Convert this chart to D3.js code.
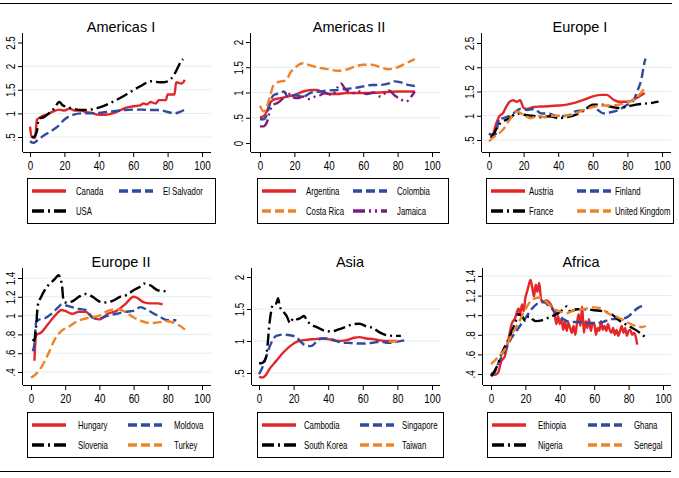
<!DOCTYPE html>
<html>
<head>
<meta charset="utf-8">
<script src="https://cdn.jsdelivr.net/npm/d3@7"></script>
<style>
body { margin: 0; background: #fff; }
text { font-family: "Liberation Sans", Arial, sans-serif; fill: #000; }
.title { font-size: 14.5px; }
</style>
</head>
<body>
<script>

// ---- data: [age, ratio] ----
var xTicks = [0, 20, 40, 60, 80, 100];

var americasINames = ["Canada", "El Salvador", "USA"];
var canada = [[0,.72],[1,.5],[3,.48],[4,.86],[6,.92],[10,.98],[13,1.03],[17,1.08],[20,1.06],[23,1.1],[26,1.06],[30,1.06],[32,1.03],[36,1.01],[40,.97],[44,.97],[48,1.0],[52,1.06],[56,1.12],[60,1.15],[64,1.17],[66,1.21],[68,1.19],[70,1.24],[73,1.21],[75,1.28],[79,1.28],[80,1.4],[84,1.4],[85,1.66],[88,1.63],[90,1.71]];
var elSalvador = [[0,.41],[2,.375],[4,.42],[8,.53],[12,.62],[16,.72],[20,.87],[25,.97],[30,1.0],[35,1.0],[40,1.01],[45,1.03],[50,1.05],[55,1.07],[60,1.08],[65,1.08],[70,1.07],[75,1.07],[80,1.03],[84,1.0],[87,1.03],[90,1.08]];
var usa = [[1,.51],[2,.5],[4,.62],[5,.88],[8,.92],[11,1.0],[14,1.1],[17,1.24],[19,1.17],[21,1.14],[25,1.1],[30,1.07],[35,1.08],[40,1.12],[45,1.19],[50,1.28],[55,1.38],[60,1.49],[65,1.59],[70,1.68],[75,1.66],[78,1.66],[82,1.73],[85,1.9],[88,2.11],[89,2.15]];

var americasIINames = ["Argentina", "Colombia", "Costa Rica", "Jamaica"];
var argentina = [[0,.51],[2,.53],[4,.63],[6,.8],[8,.86],[12,.89],[16,.92],[20,.95],[25,1.02],[30,1.05],[33,1.05],[36,1.01],[40,.97],[45,.97],[50,.99],[60,.99],[70,1.0],[80,1.02],[90,1.02]];
var colombia = [[0,.47],[2,.47],[4,.56],[6,.82],[8,.95],[12,.99],[14,1.02],[16,.92],[20,.95],[25,.92],[30,1.0],[35,1.02],[40,1.04],[45,1.05],[50,1.07],[55,1.09],[60,1.12],[65,1.15],[70,1.15],[75,1.18],[78,1.22],[82,1.2],[86,1.15],[90,1.13]];
var costaRica = [[0,.74],[2,.63],[4,.72],[6,.95],[8,1.15],[12,1.22],[15,1.24],[18,1.41],[20,1.48],[25,1.58],[28,1.55],[32,1.51],[36,1.48],[40,1.46],[45,1.43],[50,1.45],[55,1.51],[60,1.55],[65,1.55],[70,1.5],[75,1.46],[80,1.5],[85,1.58],[90,1.66]];
var jamaica = [[0,.33],[2,.33],[4,.41],[6,.66],[8,.76],[10,.79],[13,.87],[16,1.02],[18,.92],[22,.89],[25,.92],[28,.87],[32,.92],[35,.95],[38,.99],[42,.95],[45,1.1],[47,1.18],[50,1.05],[55,.99],[58,1.02],[62,.97],[66,1.0],[70,.92],[75,1.04],[78,.95],[82,.86],[85,.82],[88,.92],[90,1.02]];

var europeINames = ["Austria", "Finland", "France", "United Kingdom"];
var austria = [[0,.63],[2,.61],[4,.82],[6,.99],[8,1.05],[10,1.19],[12,1.29],[14,1.32],[16,1.29],[18,1.32],[20,1.16],[22,1.14],[26,1.18],[30,1.19],[40,1.21],[45,1.23],[50,1.27],[55,1.33],[60,1.4],[65,1.43],[68,1.43],[72,1.33],[75,1.29],[80,1.29],[85,1.36],[90,1.47]];
var finland = [[0,.63],[2,.59],[4,.63],[6,.95],[8,.95],[10,.97],[14,1.05],[18,1.14],[22,1.12],[26,1.14],[30,1.05],[35,1.04],[40,.99],[45,1.0],[50,1.09],[55,1.12],[60,1.21],[63,1.12],[66,1.05],[70,1.07],[75,1.12],[80,1.23],[83,1.29],[86,1.53],[88,1.74],[90,2.12],[90.5,2.18]];
var france = [[1,.54],[3,.64],[5,.78],[8,.88],[12,.95],[16,1.05],[20,1.02],[25,1.0],[30,.97],[35,.99],[40,.95],[45,.97],[50,1.02],[55,1.11],[60,1.23],[65,1.23],[70,1.19],[75,1.16],[80,1.19],[85,1.23],[90,1.25],[95,1.27],[98,1.29]];
var uk = [[0,.47],[2,.54],[4,.59],[8,.71],[12,.92],[16,1.09],[20,1.02],[24,.95],[28,1.0],[32,.97],[36,1.0],[40,1.0],[45,1.0],[50,1.05],[55,1.12],[60,1.18],[65,1.21],[70,1.21],[75,1.23],[80,1.27],[85,1.36],[88,1.48],[90,1.57]];

var europeIINames = ["Hungary", "Moldova", "Slovenia", "Turkey"];
var hungary = [[2,.52],[3,.79],[6,.82],[10,.91],[14,1.0],[18,1.06],[20,1.05],[24,1.02],[28,1.04],[32,1.04],[36,.98],[40,.96],[45,1.02],[50,1.05],[55,1.12],[60,1.2],[62,1.19],[66,1.14],[70,1.13],[74,1.13],[77,1.12]];
var moldova = [[1,.62],[2,.7],[3,.93],[5,.96],[8,.97],[12,1.02],[16,1.09],[18,1.12],[20,1.11],[24,1.09],[28,1.07],[32,1.06],[36,.98],[40,.97],[45,1.0],[50,1.02],[55,1.04],[60,1.05],[64,1.09],[68,1.06],[72,1.02],[76,.98],[80,.95],[85,.95]];
var slovenia = [[1,.75],[2,.73],[3,.89],[4,1.11],[6,1.2],[8,1.27],[10,1.32],[14,1.39],[16,1.43],[18,1.34],[19,1.16],[20,1.14],[24,1.15],[28,1.2],[32,1.23],[36,1.2],[40,1.15],[44,1.14],[48,1.16],[52,1.2],[56,1.22],[60,1.27],[64,1.31],[66,1.34],[70,1.32],[74,1.27],[78,1.26],[80,1.27]];
var turkey = [[0,.34],[3,.38],[6,.45],[10,.59],[14,.75],[18,.84],[22,.88],[26,.93],[30,.96],[35,.98],[40,1.0],[45,1.05],[50,1.07],[55,1.04],[60,.98],[65,.94],[70,.92],[75,.93],[80,.94],[85,.91],[88,.88],[90,.85]];

var asiaNames = ["Cambodia", "Singapore", "South Korea", "Taiwan"];
var cambodia = [[0,.44],[2,.43],[4,.47],[6,.56],[10,.69],[14,.82],[18,.92],[22,.99],[25,1.01],[28,1.02],[32,1.03],[36,1.04],[40,1.03],[45,1.0],[50,1.01],[55,1.05],[58,1.06],[62,1.04],[66,1.03],[70,1.01],[75,1.0],[80,1.0]];
var singapore = [[0,.48],[2,.59],[4,.74],[6,.9],[10,1.08],[14,1.1],[18,1.09],[22,1.05],[24,.99],[27,.93],[30,.92],[33,.98],[36,1.04],[40,1.04],[44,1.01],[48,.97],[52,.97],[56,.96],[60,.96],[65,.97],[70,.99],[75,.97],[80,.99],[84,1.01]];
var southKorea = [[0,.65],[2,.66],[4,.74],[5,.95],[6,1.26],[7,1.46],[8,1.57],[10,1.59],[11,1.67],[12,1.54],[14,1.46],[16,1.39],[18,1.28],[20,1.36],[22,1.34],[24,1.36],[26,1.39],[28,1.31],[30,1.26],[34,1.21],[38,1.16],[42,1.15],[46,1.18],[50,1.22],[54,1.26],[58,1.27],[62,1.23],[66,1.2],[70,1.13],[74,1.09],[78,1.08],[82,1.08]];
var taiwan = [[75,1.0],[77,.99],[80,1.0]];

var africaNames = ["Ethiopia", "Ghana", "Nigeria", "Senegal"];
var ethiopia = [[0,.41],[2,.39],[4,.41],[6,.53],[8,.58],[10,.74],[12,.91],[14,.97],[16,1.07],[17,1.01],[18,1.11],[19,1.04],[20,1.18],[21,1.24],[22,1.31],[23,1.36],[24,1.28],[25,1.19],[26,1.31],[27,1.24],[28,1.33],[29,1.18],[30,1.13],[32,1.15],[34,1.13],[36,1.06],[37,1.01],[38,.91],[39,.99],[40,.91],[41,.96],[42,.85],[43,.94],[44,.84],[45,.92],[46,.87],[47,.82],[48,.89],[49,.8],[50,.92],[51,1.01],[52,.89],[53,1.09],[54,.82],[55,.94],[56,.87],[57,.96],[58,.84],[59,.91],[60,.92],[61,.8],[62,.87],[63,.84],[64,.94],[65,.85],[66,.89],[67,.84],[68,.91],[69,.85],[70,.82],[71,.87],[72,.8],[73,.85],[74,.79],[75,.84],[76,.89],[77,.82],[78,.87],[79,.79],[80,.84],[81,.85],[82,.8],[83,.82],[84,.79],[85,.7]];
var ghana = [[0,.38],[2,.41],[4,.5],[8,.63],[12,.77],[16,.87],[20,.97],[24,1.07],[28,1.13],[30,1.14],[34,1.09],[38,1.02],[42,.96],[46,.93],[50,.93],[55,.92],[60,.92],[65,.93],[70,.96],[75,.96],[80,.99],[83,1.04],[86,1.08],[90,1.1]];
var nigeria = [[0,.38],[2,.43],[4,.5],[6,.6],[10,.75],[14,.92],[16,1.01],[18,.99],[20,.94],[22,.99],[24,.96],[26,.94],[30,.95],[34,.98],[38,1.01],[42,1.06],[44,1.09],[46,1.04],[50,1.06],[55,1.06],[60,1.05],[65,1.04],[70,1.01],[75,.94],[80,.89],[85,.84],[90,.77]];
var senegal = [[0,.5],[4,.57],[8,.65],[12,.8],[16,.92],[20,1.06],[24,1.16],[28,1.18],[32,1.14],[36,1.07],[40,1.04],[44,1.02],[48,1.05],[52,1.06],[56,1.07],[60,1.08],[64,1.07],[68,1.02],[72,.99],[76,.96],[80,.92],[84,.89],[88,.88],[90,.89]];

var yTicksA = [.5, 1, 1.5, 2, 2.5];
var yTicksB = [0, .5, 1, 1.5, 2];
var yTicksC = [.4, .6, .8, 1, 1.2, 1.4];
var yTicksD = [.5, 1, 1.5, 2];

// ---- line styles ----
var styles = {
	red:    {color: "#e4262b", dash: null},
	blue:   {color: "#2f4b9b", dash: "9,4"},
	black:  {color: "#000000", dash: "12,4,2,4"},
	orange: {color: "#f08228", dash: "9,4"},
	purple: {color: "#7a1f7e", dash: "12,4,2,4,2,4"}
};

// ---- panels: axis x, right edge, top, bottom, x px for 0/100, y px for two tick values ----
// lg: box x, y, w, h, second column offset, label offset
var panels = [
	{title: "Americas I", names: americasINames, series: [canada, elSalvador, usa], st: ["red","blue","black"],
	 ticks: yTicksA, grid: [.5,1,1.5,2], ax: 23, right: 211, top: 33, bot: 152, xr: [30,202], yd: [.5,2.5], yr: [137,42.5], lg: [27,178,188,45,92,44]},
	{title: "Americas II", names: americasIINames, series: [argentina, colombia, costaRica, jamaica], st: ["red","blue","orange","purple"],
	 ticks: yTicksB, grid: [.5,1,1.5], ax: 251, right: 440, top: 33, bot: 152, xr: [260,432], yd: [0,2], yr: [143,42], lg: [257,178,191,45,96,44]},
	{title: "Europe I", names: europeINames, series: [austria, finland, france, uk], st: ["red","blue","black","orange"],
	 ticks: yTicksA, grid: [.5,1,1.5,2], ax: 482, right: 671, top: 33, bot: 152, xr: [489,662], yd: [.5,2.5], yr: [140,43], lg: [486,178,187,45,91,38]},
	{title: "Europe II", names: europeIINames, series: [hungary, moldova, slovenia, turkey], st: ["red","blue","black","orange"],
	 ticks: yTicksC, grid: yTicksC, ax: 23, right: 211, top: 268, bot: 385, xr: [31,202], yd: [.4,1.4], yr: [372,278], lg: [27,412,186,45,101,46]},
	{title: "Asia", names: asiaNames, series: [cambodia, singapore, southKorea, taiwan], st: ["red","blue","black","orange"],
	 ticks: yTicksD, grid: [.5,1,1.5], ax: 252, right: 440, top: 268, bot: 385, xr: [259,432], yd: [.5,2], yr: [373,277], lg: [257,412,186,45,103,42]},
	{title: "Africa", names: africaNames, series: [ethiopia, ghana, nigeria, senegal], st: ["red","blue","black","orange"],
	 ticks: yTicksC, grid: yTicksC, ax: 483, right: 671, top: 268, bot: 385, xr: [491,663], yd: [.4,1.4], yr: [374,276], lg: [487,412,184,45,101,46]}
];

var W = 679, H = 478;
var narrow = 0.82;   // the source font is a condensed face
var svg = d3.select("body").append("svg")
	.attr("width", W)
	.attr("height", H);

// rules above and below the figure
svg.append("line").attr("x1", 0).attr("x2", 672).attr("y1", 3.5).attr("y2", 3.5)
	.attr("stroke", "#000").attr("stroke-width", 1.2);
svg.append("line").attr("x1", 0).attr("x2", 671).attr("y1", 471.5).attr("y2", 471.5)
	.attr("stroke", "#000").attr("stroke-width", 1.2);

var fmt = function (v) { return d3.format("~g")(v).replace(/^0\./, "."); };

panels.forEach(function (p) {
	var g = svg.append("g");
	var x = d3.scaleLinear().domain([0, 100]).range(p.xr);
	var y = d3.scaleLinear().domain(p.yd).range(p.yr);

	// gridlines
	g.selectAll(".grid").data(p.grid).enter().append("line")
		.attr("x1", p.ax).attr("x2", p.right)
		.attr("y1", function (d) { return y(d); })
		.attr("y2", function (d) { return y(d); })
		.attr("stroke", "#e3ecee").attr("stroke-width", 1);

	// series
	var line = d3.line()
		.x(function (d) { return x(d[0]); })
		.y(function (d) { return y(d[1]); })
		.curve(d3.curveMonotoneX);
	p.series.forEach(function (s, i) {
		var st = styles[p.st[i]];
		g.append("path").datum(s)
			.attr("d", line)
			.attr("fill", "none")
			.attr("stroke", st.color)
			.attr("stroke-width", 2.4)
			.attr("stroke-dasharray", st.dash);
	});

	// axes
	var xAxis = d3.axisBottom(x).tickValues(xTicks).tickSize(5).tickSizeOuter(0);
	var gx = g.append("g").attr("transform", "translate(0," + p.bot + ")").call(xAxis);
	gx.select(".domain").attr("d", "M" + p.ax + ",0.5H" + p.right);
	gx.selectAll("text").attr("dy", null).attr("y", null)
		.attr("transform", "translate(0,18) scale(" + narrow + ",1)")
		.style("font-size", "12px");

	var yAxis = d3.axisLeft(y).tickValues(p.ticks).tickSize(5).tickFormat(fmt);
	var gy = g.append("g").attr("transform", "translate(" + p.ax + ",0)").call(yAxis);
	gy.select(".domain").attr("d", "M-0.5," + p.top + "V" + p.bot);
	gy.selectAll(".tick text")
		.attr("x", null).attr("dy", null)
		.attr("transform", "translate(-8,0) rotate(-90) scale(" + narrow + ",1)")
		.attr("text-anchor", "middle")
		.style("font-size", "12px");
	g.selectAll(".domain, .tick line").attr("stroke", "#000");

	// title
	g.append("text").attr("class", "title")
		.attr("x", p.ax + 98).attr("y", p.top - 1.5)
		.attr("text-anchor", "middle")
		.text(p.title);

	// legend
	var lx = p.lg[0], ly = p.lg[1], lw = p.lg[2], lh = p.lg[3];
	g.append("rect").attr("x", lx + 0.5).attr("y", ly + 0.5)
		.attr("width", lw).attr("height", lh)
		.attr("fill", "#fff").attr("stroke", "#000").attr("stroke-width", 1);
	p.names.forEach(function (name, i) {
		var st = styles[p.st[i]];
		var cx = lx + (i % 2 === 0 ? 5 : p.lg[4]);
		var cy = ly + (i < 2 ? 13 : 33);
		g.append("line")
			.attr("x1", cx).attr("x2", cx + 34)
			.attr("y1", cy).attr("y2", cy)
			.attr("stroke", st.color).attr("stroke-width", 3.5)
			.attr("stroke-dasharray", st.dash);
		g.append("text")
			.attr("transform", "translate(" + (cx + p.lg[5]) + "," + (cy + 3.5) + ") scale(0.78,1)")
			.style("font-size", "10px")
			.text(name);
	});
});

</script>
</body>
</html>
